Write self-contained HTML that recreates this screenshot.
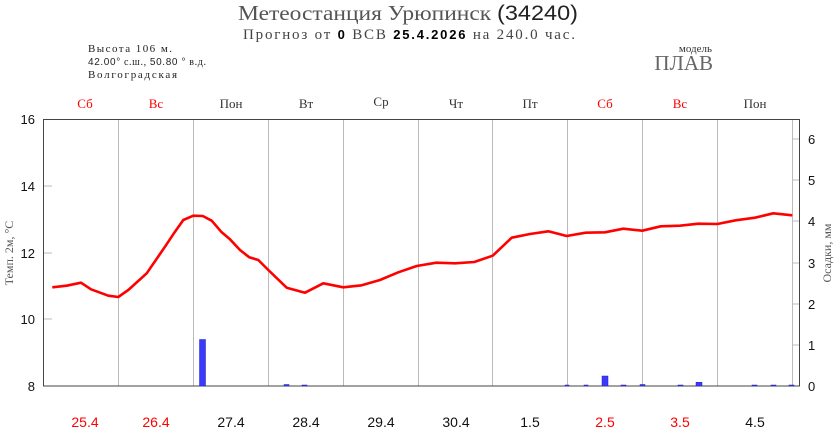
<!DOCTYPE html>
<html><head><meta charset="utf-8"><style>
body{margin:0;background:#fff;}
svg{display:block;}
.s{font-family:"Liberation Serif","DejaVu Serif",serif;}
.a{font-family:"Liberation Sans","DejaVu Sans",sans-serif;}
</style></head><body>
<svg width="837" height="431" viewBox="0 0 837 431" xmlns="http://www.w3.org/2000/svg">
<text x="408" y="20" text-anchor="middle" class="s" font-size="21" fill="#555" textLength="340" lengthAdjust="spacingAndGlyphs">Метеостанция Урюпинск <tspan class="a" fill="#222">(34240)</tspan></text>
<text x="243" y="39" class="s" font-size="15" fill="#444" textLength="332" lengthAdjust="spacing">Прогноз от <tspan class="a" font-weight="bold" fill="#000" font-size="13">0</tspan> ВСВ <tspan class="a" font-weight="bold" fill="#000" font-size="13">25.4.2026</tspan>  на 240.0 час.</text>
<text x="88" y="52" class="s" font-size="11" fill="#222" textLength="84" lengthAdjust="spacing">Высота 106 м.</text>
<text x="88" y="65" class="s" font-size="10" fill="#222" textLength="118" lengthAdjust="spacing"><tspan class="a">42.00°</tspan> с.ш., <tspan class="a">50.80 °</tspan> в.д.</text>
<text x="88" y="78" class="s" font-size="11" fill="#222" textLength="89" lengthAdjust="spacing">Волгоградская</text>
<text x="712" y="52" class="s" font-size="11" fill="#333" text-anchor="end">модель</text>
<text x="713" y="70" class="s" font-size="21" fill="#666" text-anchor="end">ПЛАВ</text>
<g class="s" font-size="13" text-anchor="middle">
<text x="85" y="108" fill="#f00">Сб</text><text x="156" y="108" fill="#f00">Вс</text>
<text x="231" y="108" fill="#333">Пон</text><text x="306" y="108" fill="#333">Вт</text>
<text x="381" y="106" fill="#333">Ср</text><text x="456" y="108" fill="#333">Чт</text>
<text x="530" y="108" fill="#333">Пт</text><text x="605" y="108" fill="#f00">Сб</text>
<text x="680" y="108" fill="#f00">Вс</text><text x="755" y="108" fill="#333">Пон</text>
</g>
<g stroke="#bbb" stroke-width="1">
<line x1="118.5" y1="119" x2="118.5" y2="386"/><line x1="193.5" y1="119" x2="193.5" y2="386"/>
<line x1="268.5" y1="119" x2="268.5" y2="386"/><line x1="343.5" y1="119" x2="343.5" y2="386"/>
<line x1="418.5" y1="119" x2="418.5" y2="386"/><line x1="492.5" y1="119" x2="492.5" y2="386"/>
<line x1="567.5" y1="119" x2="567.5" y2="386"/><line x1="642.5" y1="119" x2="642.5" y2="386"/>
<line x1="717.5" y1="119" x2="717.5" y2="386"/><line x1="792.5" y1="119" x2="792.5" y2="386"/>
<line x1="43" y1="186" x2="52" y2="186"/><line x1="43" y1="253" x2="52" y2="253"/><line x1="43" y1="319" x2="52" y2="319"/>
<line x1="792" y1="139" x2="800" y2="139"/><line x1="792" y1="180" x2="800" y2="180"/><line x1="792" y1="221" x2="800" y2="221"/>
<line x1="792" y1="263" x2="800" y2="263"/><line x1="792" y1="304" x2="800" y2="304"/><line x1="792" y1="345" x2="800" y2="345"/>
</g>
<rect x="43.5" y="119.5" width="756" height="266.5" fill="none" stroke="#444" stroke-width="1"/>
<g fill="#3a3aff" stroke="#2222aa" stroke-width="0.5">
<rect x="199.5" y="339.5" width="6" height="46.5"/>
<rect x="284" y="384.5" width="5" height="1.5"/><rect x="302" y="385" width="5" height="1"/>
<rect x="565" y="385" width="4" height="1"/><rect x="584" y="385" width="4" height="1"/>
<rect x="602" y="376" width="6" height="10"/><rect x="621" y="385" width="5" height="1"/>
<rect x="640" y="384.5" width="5" height="1.5"/><rect x="678" y="385" width="5" height="1"/>
<rect x="696" y="382.3" width="6" height="3.7"/><rect x="752" y="385" width="5" height="1"/>
<rect x="771" y="385" width="5" height="1"/><rect x="789" y="385" width="5" height="1"/>
</g>
<polyline fill="none" stroke="#f00" stroke-width="2.6" stroke-linejoin="round" points="52.3,287.3 66.7,285.7 81,282.7 91,289.3 108.3,295.7 118.3,297 128.3,290 146.7,273.3 165,246.7 175,231.7 183.3,220 193.3,215.7 202.7,216 211.7,220.7 221.7,232.3 230,239.3 240,250 249.3,257.3 258.3,260 268.3,270 286.7,287.7 305,292.7 323.3,283.3 343.3,287.3 361.7,285.3 380,280 398.3,272.3 416.7,266 436.3,262.7 455,263.3 474.3,262 492.7,255.7 511.7,237.7 530,234 548.3,231.3 566.7,236 585.7,232.7 605,232.3 623.3,228.7 642.3,230.7 660.7,226.3 680,225.7 698.3,223.7 717.3,224 735.7,220.3 755,217.7 773.3,213.3 792.3,215.3"/>
<g class="a" font-size="13" fill="#111" text-anchor="end">
<text x="35" y="124">16</text><text x="35" y="191">14</text><text x="35" y="258">12</text>
<text x="35" y="324">10</text><text x="35" y="391">8</text>
</g>
<g class="a" font-size="13" fill="#111">
<text x="808" y="144">6</text><text x="808" y="185">5</text><text x="808" y="226">4</text>
<text x="808" y="268">3</text><text x="808" y="309">2</text><text x="808" y="350">1</text><text x="808" y="391">0</text>
</g>
<text transform="translate(13,253) rotate(-90)" text-anchor="middle" class="s" font-size="12" fill="#555">Темп. 2м, °С</text>
<text transform="translate(831,253) rotate(-90)" text-anchor="middle" class="s" font-size="12" fill="#555">Осадки, мм</text>
<g class="a" font-size="14" text-anchor="middle">
<text x="85" y="427" fill="#f00">25.4</text><text x="156" y="427" fill="#f00">26.4</text>
<text x="231" y="427" fill="#111">27.4</text><text x="306" y="427" fill="#111">28.4</text>
<text x="381" y="427" fill="#111">29.4</text><text x="456" y="427" fill="#111">30.4</text>
<text x="530" y="427" fill="#111">1.5</text><text x="605" y="427" fill="#f00">2.5</text>
<text x="680" y="427" fill="#f00">3.5</text><text x="755" y="427" fill="#111">4.5</text>
</g>
</svg>
</body></html>
